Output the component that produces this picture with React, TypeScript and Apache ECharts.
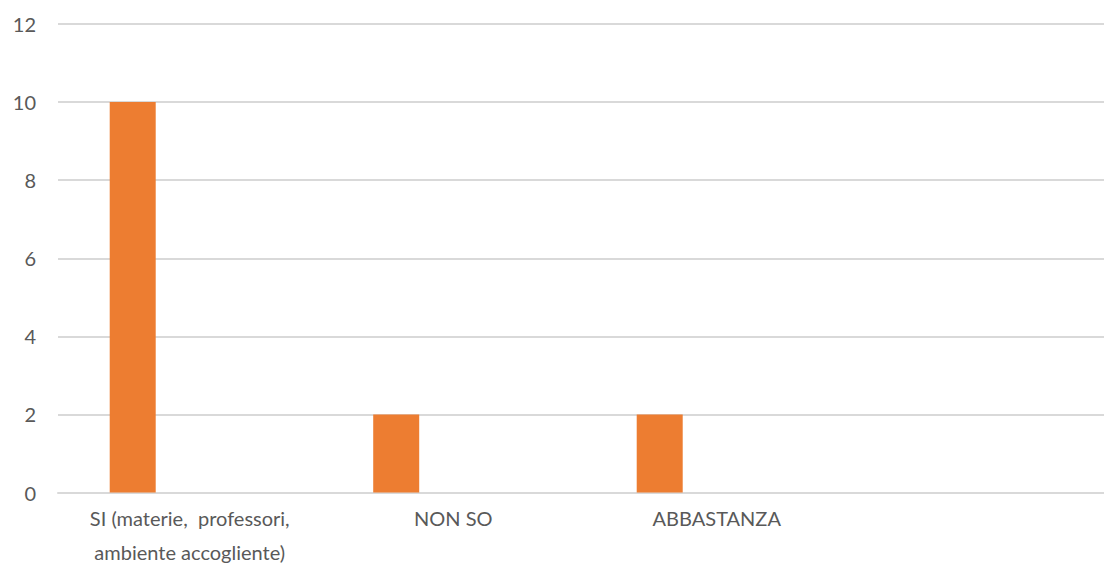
import React, { useEffect, useRef } from "react";
import * as echarts from "echarts";

const categories = ["SI (materie,  professori,\nambiente accogliente)", "NON SO", "ABBASTANZA", ""];
const serie1 = [10, 2, 2, null];
const serie2 = [null, null, null, null];
const serie3 = [null, null, null, null];
const yTicks = { min: 0, max: 12, interval: 2 };

export default function App() {
  const ref = useRef<HTMLDivElement>(null);
  useEffect(() => {
    const chart = echarts.init(ref.current!, undefined, { renderer: "svg" });
    const font = "Lato, 'Noto Sans', sans-serif";
    chart.setOption({
      animation: false,
      backgroundColor: "#ffffff",
      grid: {
        left: 58,
        top: 24,
        width: 1054,
        height: 468.5,
        containLabel: false,
        outerBoundsMode: "none",
      },
      xAxis: {
        type: "category",
        data: categories,
        axisTick: { show: false },
        axisLine: { lineStyle: { color: "#D9D9D9", width: 2 } },
        axisLabel: {
          interval: 0,
          color: "#595959",
          fontFamily: font,
          fontSize: 20,
          lineHeight: 34,
          margin: 8,
        },
      },
      yAxis: {
        type: "value",
        min: yTicks.min,
        max: yTicks.max,
        interval: yTicks.interval,
        axisLine: { show: false },
        axisTick: { show: false },
        splitLine: { lineStyle: { color: "#D9D9D9", width: 2 } },
        axisLabel: { color: "#595959", fontFamily: font, fontSize: 20, margin: 22 },
      },
      series: [
        { type: "bar", data: serie1, barWidth: 46, barGap: "24%", itemStyle: { color: "#ED7D31" } },
        { type: "bar", data: serie2, barWidth: 46, barGap: "24%", itemStyle: { color: "#A5A5A5" } },
        { type: "bar", data: serie3, barWidth: 46, barGap: "24%", itemStyle: { color: "#FFC000" } },
      ],
    });
    return () => chart.dispose();
  }, []);
  return <div ref={ref} style={{ position: "fixed", left: 0, top: 0, width: 1104, height: 567 }} />;
}
